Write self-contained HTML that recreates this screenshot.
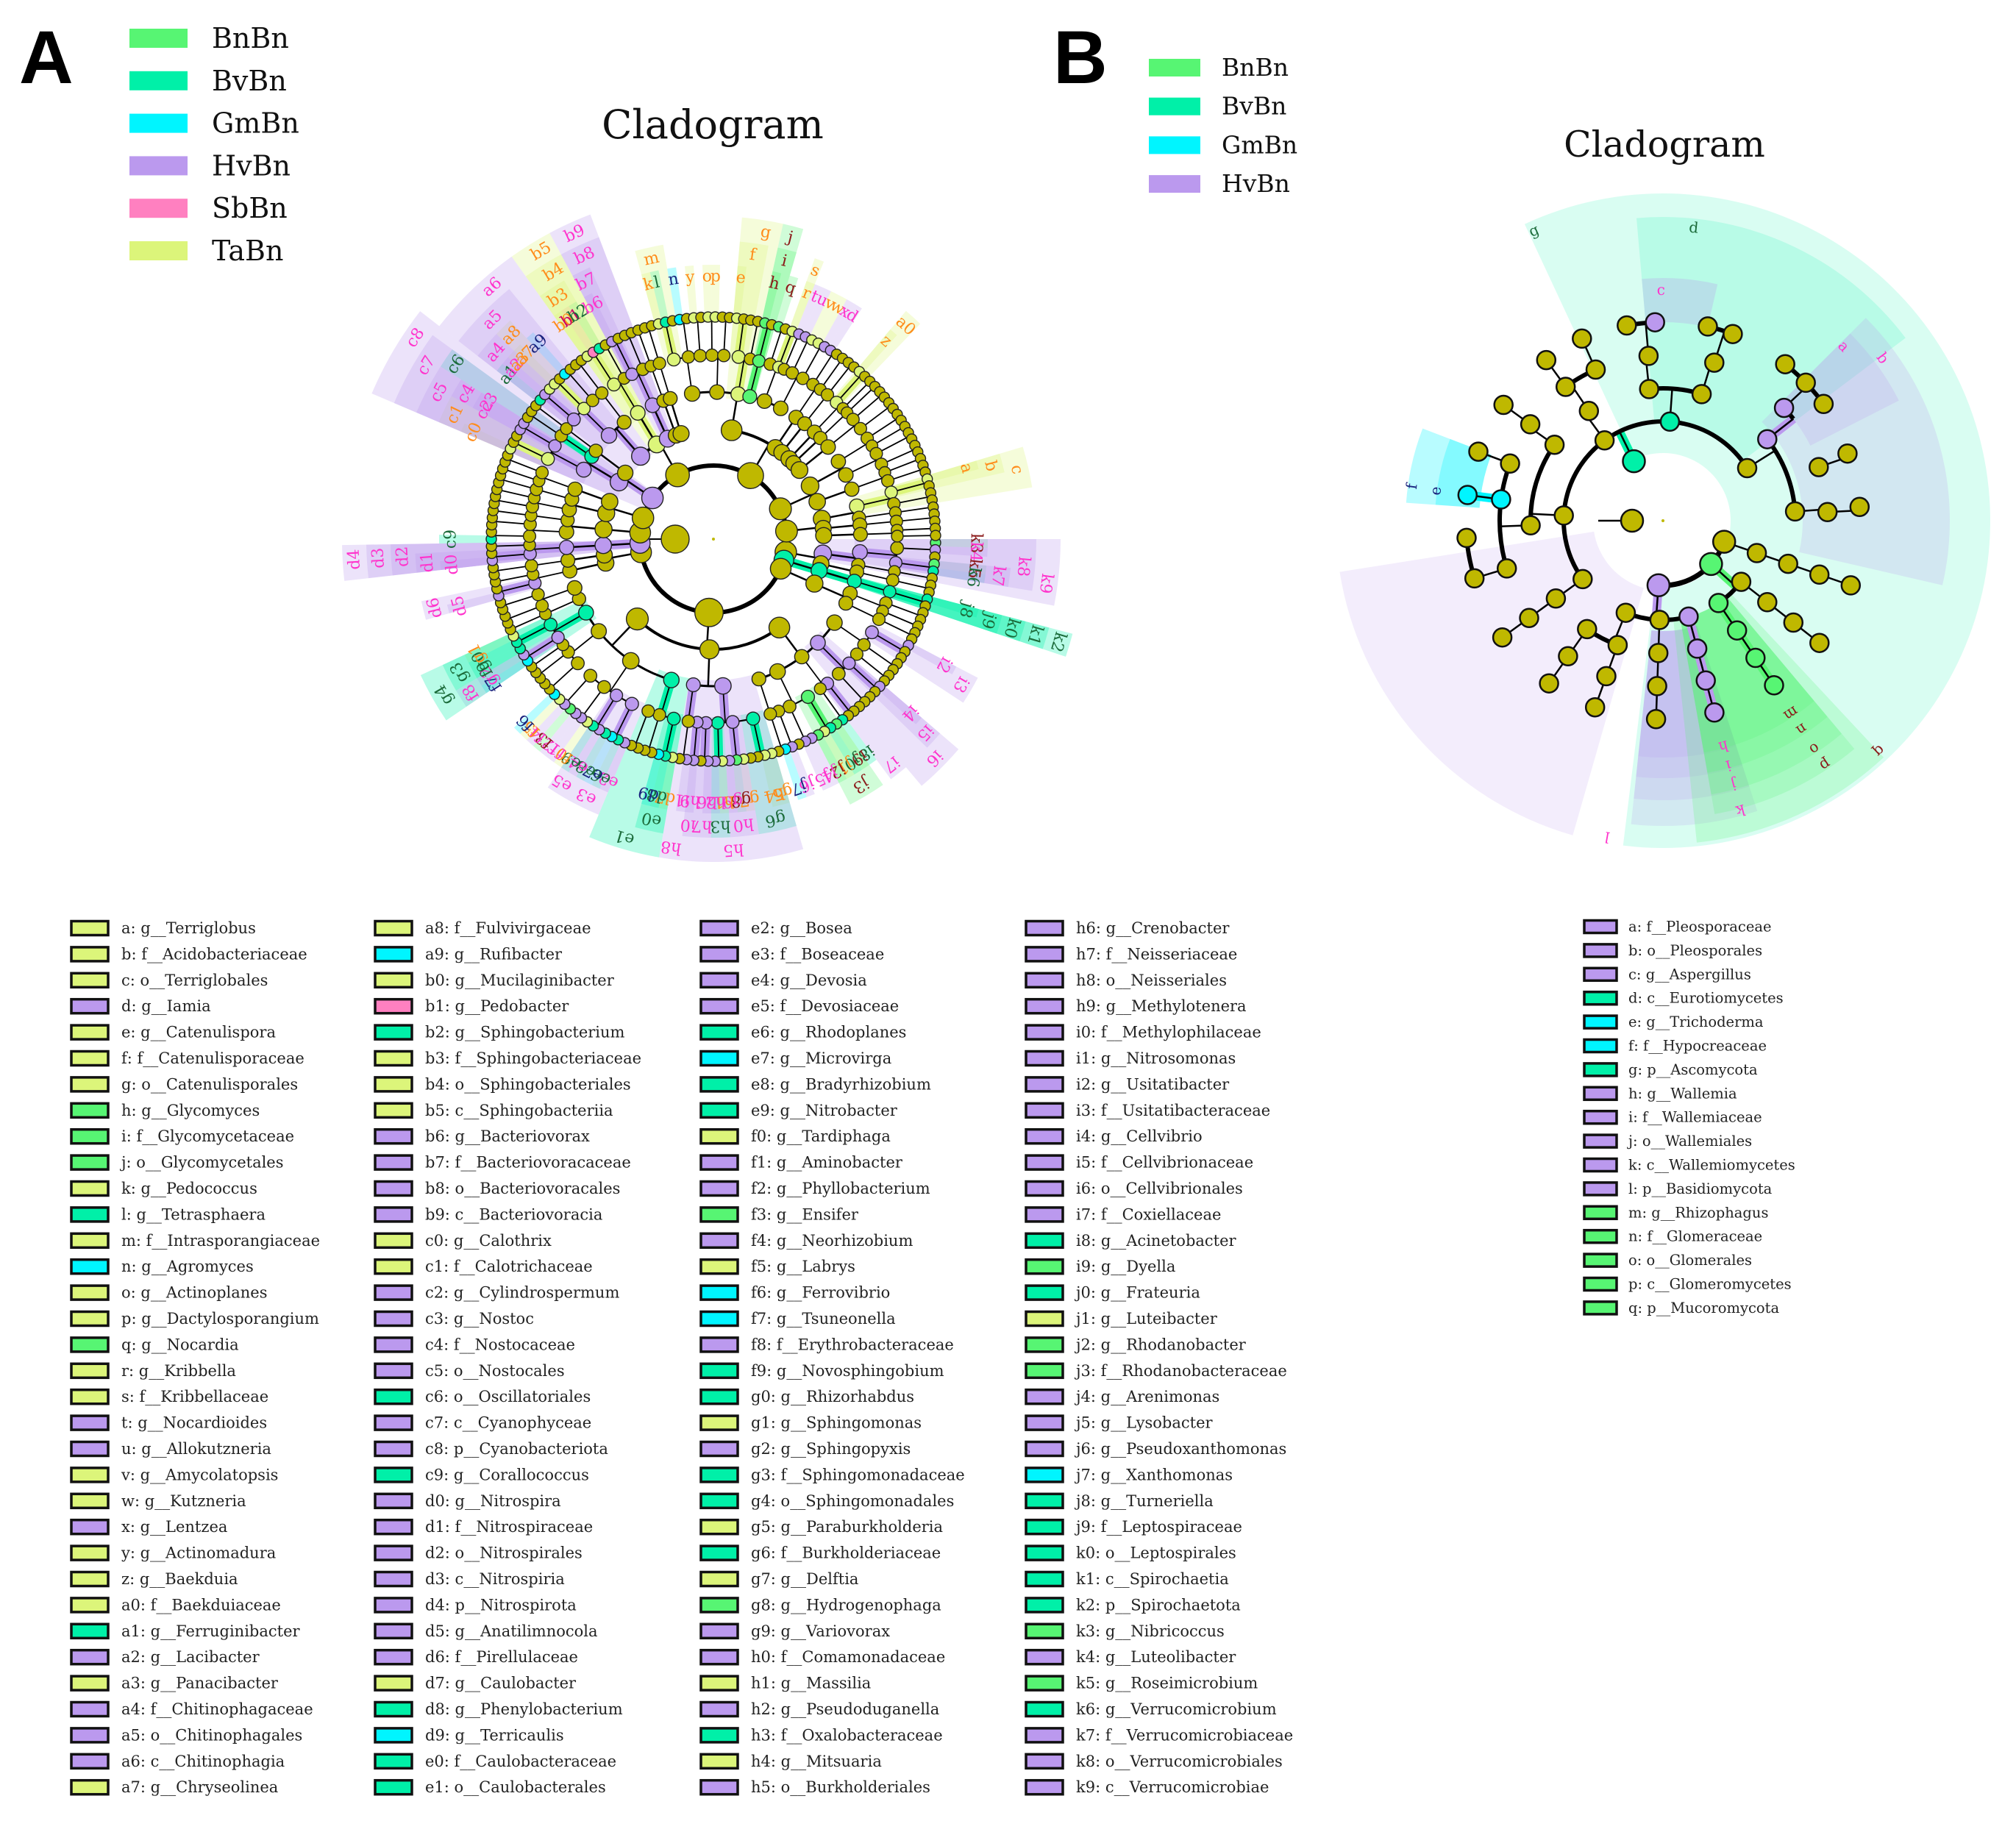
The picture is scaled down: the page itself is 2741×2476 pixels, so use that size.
<!DOCTYPE html>
<html><head><meta charset="utf-8"><title>Cladograms</title>
<style>
html,body{margin:0;padding:0;background:#fff;}
svg{display:block;}
</style></head>
<body>
<svg id="fig" width="2741" height="2476" viewBox="0 0 2741 2476" xmlns="http://www.w3.org/2000/svg"></svg>
<script>
// ---------- Shared styles ----------
const groupFill={Bn:'#57f573',Bv:'#00f0a8',Gm:'#00f5ff',Hv:'#bb99ee',Sb:'#ff80c0',Ta:'#dcf57a'};
const groupText={Bn:'#8b1a1a',Bv:'#1b6b3a',Gm:'#1a237e',Hv:'#ff33cc',Sb:'#cc0066',Ta:'#ff8c1a'};
const NODE='#bfb800';

// ---------- Panel A data ----------
const groupNamesA=['BnBn','BvBn','GmBn','HvBn','SbBn','TaBn'];
const groupKeysA=['Bn','Bv','Gm','Hv','Sb','Ta'];
const phylumNames=['Verrucomicrobiota','Spirochaetota','Gemmatimonadota','Proteobacteria','Planctomycetota','Nitrospirota','Myxococcota','Chloroflexi','Cyanobacteriota','Bacteroidota','Actinobacteriota','Firmicutes','Acidobacteriota'];
const phylumTrees=[
 [[[3,2],[1]],[[2]]],
 [[[2]]],
 [[[2,1],[2]]],
 [[[3,2,2],[2,3],[2,1],[4,3,1],[2]], [[4,3,2,2,1],[2]], [[3,2,2],[4,2,3,3],[3,2,1],[2,3],[1],[2,2]]],
 [[[2,1]],[[2]]],
 [[[2,1]]],
 [[[2,2],[1]]],
 [[[2,1],[2]],[[1,2]]],
 [[[3,2],[2]],[[1]]],
 [[[3,2,2],[2]],[[3,1]],[[2,2]],[[1]],[[2]]],
 [[[3,2,2],[2,2],[3,1],[2],[2,1,1],[2,2]],[[2,1]],[[2]],[[2,1]],[[1]],[[2,2]]],
 [[[2,1],[2,2]],[[1,2]]],
 [[[2,2],[1]],[[2]],[[1,1]]]
];
const legendEntriesA=[
'a|g__Terriglobus|Ta|12.0.0.0.0','b|f__Acidobacteriaceae|Ta|12.0.0.0','c|o__Terriglobales|Ta|12.0.0','d|g__Iamia|Hv|10.1.0.0.0',
'e|g__Catenulispora|Ta|10.0.2.0.0','f|f__Catenulisporaceae|Ta|10.0.2.0','g|o__Catenulisporales|Ta|10.0.2','h|g__Glycomyces|Bn|10.0.3.0.0',
'i|f__Glycomycetaceae|Bn|10.0.3.0','j|o__Glycomycetales|Bn|10.0.3','k|g__Pedococcus|Ta|10.0.0.0.0','l|g__Tetrasphaera|Bv|10.0.0.0.1',
'm|f__Intrasporangiaceae|Ta|10.0.0.0','n|g__Agromyces|Gm|10.0.0.1.0','o|g__Actinoplanes|Ta|10.0.1.0.0','p|g__Dactylosporangium|Ta|10.0.1.0.1',
'q|g__Nocardia|Bn|10.0.4.0.0','r|g__Kribbella|Ta|10.0.4.1.0','s|f__Kribbellaceae|Ta|10.0.4.1','t|g__Nocardioides|Hv|10.0.4.2.0',
'u|g__Allokutzneria|Hv|10.0.5.0.0','v|g__Amycolatopsis|Ta|10.0.5.0.1','w|g__Kutzneria|Ta|10.0.5.1.0','x|g__Lentzea|Hv|10.0.5.1.1',
'y|g__Actinomadura|Ta|10.0.0.2.0','z|g__Baekduia|Ta|10.3.0.0.0','a0|f__Baekduiaceae|Ta|10.3.0.0','a1|g__Ferruginibacter|Bv|9.0.0.0.0',
'a2|g__Lacibacter|Hv|9.0.0.0.1','a3|g__Panacibacter|Ta|9.0.0.0.2','a4|f__Chitinophagaceae|Hv|9.0.0.0','a5|o__Chitinophagales|Hv|9.0.0',
'a6|c__Chitinophagia|Hv|9.0','a7|g__Chryseolinea|Ta|9.0.0.1.0',
'a8|f__Fulvivirgaceae|Ta|9.0.0.1','a9|g__Rufibacter|Gm|9.0.0.2.0','b0|g__Mucilaginibacter|Ta|9.1.0.0.0','b1|g__Pedobacter|Sb|9.1.0.0.1',
'b2|g__Sphingobacterium|Bv|9.1.0.0.2','b3|f__Sphingobacteriaceae|Ta|9.1.0.0','b4|o__Sphingobacteriales|Ta|9.1.0','b5|c__Sphingobacteriia|Ta|9.1',
'b6|g__Bacteriovorax|Hv|9.2.0.0.0','b7|f__Bacteriovoracaceae|Hv|9.2.0.0','b8|o__Bacteriovoracales|Hv|9.2.0','b9|c__Bacteriovoracia|Hv|9.2',
'c0|g__Calothrix|Ta|8.0.0.0.0','c1|f__Calotrichaceae|Ta|8.0.0.0','c2|g__Cylindrospermum|Hv|8.0.0.1.0','c3|g__Nostoc|Hv|8.0.0.1.1',
'c4|f__Nostocaceae|Hv|8.0.0.1','c5|o__Nostocales|Hv|8.0.0','c6|o__Oscillatoriales|Bv|8.0.1','c7|c__Cyanophyceae|Hv|8.0',
'c8|p__Cyanobacteriota|Hv|8','c9|g__Corallococcus|Bv|6.0.0.0.0','d0|g__Nitrospira|Hv|5.0.0.0.0','d1|f__Nitrospiraceae|Hv|5.0.0.0',
'd2|o__Nitrospirales|Hv|5.0.0','d3|c__Nitrospiria|Hv|5.0','d4|p__Nitrospirota|Hv|5','d5|g__Anatilimnocola|Hv|4.0.0.0.0',
'd6|f__Pirellulaceae|Hv|4.0.0.0','d7|g__Caulobacter|Ta|3.2.0.0.0','d8|g__Phenylobacterium|Bv|3.2.0.0.1','d9|g__Terricaulis|Gm|3.2.0.0.2',
'e0|f__Caulobacteraceae|Bv|3.2.0.0','e1|o__Caulobacterales|Bv|3.2.0',
'e2|g__Bosea|Hv|3.2.1.0.0','e3|f__Boseaceae|Hv|3.2.1.0','e4|g__Devosia|Hv|3.2.1.1.0','e5|f__Devosiaceae|Hv|3.2.1.1',
'e6|g__Rhodoplanes|Bv|3.2.1.0.1','e7|g__Microvirga|Gm|3.2.1.0.2','e8|g__Bradyrhizobium|Bv|3.2.1.0.3','e9|g__Nitrobacter|Bv|3.2.1.1.1',
'f0|g__Tardiphaga|Ta|3.2.1.2.0','f1|g__Aminobacter|Hv|3.2.1.2.1','f2|g__Phyllobacterium|Hv|3.2.1.2.2','f3|g__Ensifer|Bn|3.2.1.3.0',
'f4|g__Neorhizobium|Hv|3.2.1.3.1','f5|g__Labrys|Ta|3.2.1.3.2','f6|g__Ferrovibrio|Gm|3.2.2.0.0','f7|g__Tsuneonella|Gm|3.2.3.0.0',
'f8|f__Erythrobacteraceae|Hv|3.2.3.0','f9|g__Novosphingobium|Bv|3.2.3.1.0','g0|g__Rhizorhabdus|Bv|3.2.3.1.1','g1|g__Sphingomonas|Ta|3.2.3.1.2',
'g2|g__Sphingopyxis|Hv|3.2.3.0.1','g3|f__Sphingomonadaceae|Bv|3.2.3.1','g4|o__Sphingomonadales|Bv|3.2.3','g5|g__Paraburkholderia|Ta|3.1.0.0.0',
'g6|f__Burkholderiaceae|Bv|3.1.0.0','g7|g__Delftia|Ta|3.1.0.1.0','g8|g__Hydrogenophaga|Bn|3.1.0.1.1','g9|g__Variovorax|Hv|3.1.0.1.2',
'h0|f__Comamonadaceae|Hv|3.1.0.1','h1|g__Massilia|Ta|3.1.0.2.0','h2|g__Pseudoduganella|Hv|3.1.0.2.1','h3|f__Oxalobacteraceae|Bv|3.1.0.2',
'h4|g__Mitsuaria|Ta|3.1.0.0.1','h5|o__Burkholderiales|Hv|3.1.0',
'h6|g__Crenobacter|Hv|3.1.0.3.0','h7|f__Neisseriaceae|Hv|3.1.0.3','h8|o__Neisseriales|Hv|3.1.1','h9|g__Methylotenera|Hv|3.1.0.4.0',
'i0|f__Methylophilaceae|Hv|3.1.0.4','i1|g__Nitrosomonas|Hv|3.1.1.0.0','i2|g__Usitatibacter|Hv|3.0.0.0.0','i3|f__Usitatibacteraceae|Hv|3.0.0.0',
'i4|g__Cellvibrio|Hv|3.0.1.0.0','i5|f__Cellvibrionaceae|Hv|3.0.1.0','i6|o__Cellvibrionales|Hv|3.0.1','i7|f__Coxiellaceae|Hv|3.0.2.0',
'i8|g__Acinetobacter|Bv|3.0.2.1.0','i9|g__Dyella|Bn|3.0.3.0.0','j0|g__Frateuria|Bv|3.0.3.0.1','j1|g__Luteibacter|Ta|3.0.3.0.2',
'j2|g__Rhodanobacter|Bn|3.0.3.0.3','j3|f__Rhodanobacteraceae|Bn|3.0.3.0','j4|g__Arenimonas|Hv|3.0.3.1.0','j5|g__Lysobacter|Hv|3.0.3.1.1',
'j6|g__Pseudoxanthomonas|Hv|3.0.3.2.0','j7|g__Xanthomonas|Gm|3.0.4.0.0','j8|g__Turneriella|Bv|1.0.0.0.0','j9|f__Leptospiraceae|Bv|1.0.0.0',
'k0|o__Leptospirales|Bv|1.0.0','k1|c__Spirochaetia|Bv|1.0','k2|p__Spirochaetota|Bv|1','k3|g__Nibricoccus|Bn|0.0.0.0.0',
'k4|g__Luteolibacter|Hv|0.0.0.0.1','k5|g__Roseimicrobium|Bn|0.0.0.1.0','k6|g__Verrucomicrobium|Bv|0.0.0.1.1','k7|f__Verrucomicrobiaceae|Hv|0.0.0.1',
'k8|o__Verrucomicrobiales|Hv|0.0.0','k9|c__Verrucomicrobiae|Hv|0.0'
];

// ---------- Panel B data ----------
const groupNamesB=['BnBn','BvBn','GmBn','HvBn'];
const groupKeysB=['Bn','Bv','Gm','Hv'];
const bAngle=[0,19,42,94,180,244,19,19,19,19,38,38,38,38,56,56,56,56,112,92,75,75,75,75,92,92,92,125,110,125,125,110,110,144,183,234,274,328,144,144,144,178,215,163,187.5,200.5,163,175,187.5,200.5,216,216,236,234,246,234,246,264,287,265,259.5,267.7,288,283,290.5,322,356,357,356,317,341,308,316,324,340];
const bRadius=[0,88,88,88,42,90,135,180,225,270,135,180,225,270,135,180,225,270,135,135,135,180,225,270,180,225,270,180,180,225,270,225,270,135,135,135,135,135,180,225,270,180,180,222,222,222,268,268,268,268,223,268,180,225,225,270,271,180,180,225,270,270,226,271,271,180,180,224,268,225,224,270,270,270,267];
const bParent=[-1,0,0,0,0,0,1,6,7,8,2,10,11,12,2,14,15,16,3,3,3,20,21,22,19,24,25,18,18,27,29,28,31,5,5,5,5,5,33,38,39,34,34,41,41,41,43,43,44,45,42,50,35,52,52,53,54,36,36,57,59,59,58,62,62,37,37,66,67,65,65,69,69,69,70];
const bGroup=['','','Bn','Hv','','Bv','','','','','','','','','Bn','Bn','Bn','Bn','','','Hv','Hv','Hv','Hv','','','','','','','','','','','','','Bv','','','','','','','','Gm','','','','Gm','','','','','','','','','','','','','Hv','','','','Hv','','','','Hv','','','','',''];
const bwStart=[245,265,265,315,315,184,184,106,72,72,72,72,47,50,50,50,50];
const bwEnd=[457,323,283,373,333,201,201,171,96,96,96,96,84,80,80,80,80];
const bwInner=[92,135,270,190,225,250,250,95,150,150,150,150,135,135,135,135,135];
const bwOuter=[445,413,330,390,360,350,310,445,415,380,350,322,440,405,378,348,320];
const bwGroup=['Bv','Bv','Hv','Hv','Hv','Gm','Gm','Hv','Hv','Hv','Hv','Hv','Bn','Bn','Bn','Bn','Bn'];
const bwOpacity=[0.15,0.15,0.28,0.22,0.22,0.28,0.28,0.18,0.2,0.2,0.2,0.2,0.22,0.2,0.2,0.2,0.2];
const blText=['g','d','c','a','b','e','f','l','k','j','i','h','m','n','o','p','q'];
const blAngle=[246,276,269.5,316,323.5,187.5,187.8,100,75,75,75,75,56.4,56.4,56.4,56.4,46.8];
const blRadius=[432,401,314,342,372,312,345,437,408,372,345,318,315,341,373,399,430];
const blGroup=['Bv','Bv','Hv','Hv','Hv','Gm','Gm','Hv','Hv','Hv','Hv','Hv','Bn','Bn','Bn','Bn','Bn'];
const legendEntriesB=[
'a|f__Pleosporaceae|Hv','b|o__Pleosporales|Hv','c|g__Aspergillus|Hv','d|c__Eurotiomycetes|Bv','e|g__Trichoderma|Gm','f|f__Hypocreaceae|Gm',
'g|p__Ascomycota|Bv','h|g__Wallemia|Hv','i|f__Wallemiaceae|Hv','j|o__Wallemiales|Hv','k|c__Wallemiomycetes|Hv','l|p__Basidiomycota|Hv',
'm|g__Rhizophagus|Bn','n|f__Glomeraceae|Bn','o|o__Glomerales|Bn','p|c__Glomeromycetes|Bn','q|p__Mucoromycota|Bn'
];

// ---------- Helpers ----------
const NS='http://www.w3.org/2000/svg';
const svg=document.getElementById('fig');
function mk(tag,attrs,name,parent){
  const el=document.createElementNS(NS,tag);
  for(const k in attrs) el.setAttribute(k,attrs[k]);
  
  
  (parent||svg).appendChild(el);
  return el;
}
function txt(str,attrs,name,parent){const t=mk('text',attrs,name,parent);t.textContent=str;return t;}
function pt(cx,cy,r,a){const t=a*Math.PI/180;return [cx+r*Math.cos(t),cy+r*Math.sin(t)];}
function arcPath(cx,cy,r,a0,a1){const p0=pt(cx,cy,r,a0),p1=pt(cx,cy,r,a1);const lg=(a1-a0)>180?1:0;return 'M'+p0[0].toFixed(2)+' '+p0[1].toFixed(2)+' A'+r+' '+r+' 0 '+lg+' 1 '+p1[0].toFixed(2)+' '+p1[1].toFixed(2);}
function sector(cx,cy,r0,r1,a0,a1){
  const lg=(a1-a0)>180?1:0;
  const o0=pt(cx,cy,r1,a0),o1=pt(cx,cy,r1,a1),i1=pt(cx,cy,r0,a1),i0=pt(cx,cy,r0,a0);
  return 'M'+o0.join(' ')+' A'+r1+' '+r1+' 0 '+lg+' 1 '+o1.join(' ')+' L'+i1.join(' ')+' A'+r0+' '+r0+' 0 '+lg+' 0 '+i0.join(' ')+' Z';
}
const SERIF='"DejaVu Serif","Liberation Serif",serif';

// ---------- Panel letters & titles ----------
txt('A',{x:26,y:113,'font-family':'"Liberation Sans",sans-serif','font-weight':'bold','font-size':102,fill:'#000'},'panel-a-letter');
txt('B',{x:1432,y:113,'font-family':'"Liberation Sans",sans-serif','font-weight':'bold','font-size':102,fill:'#000'},'panel-b-letter');
txt('Cladogram',{x:969,y:188,'text-anchor':'middle','font-family':SERIF,'font-size':54,fill:'#111'},'panel-a-title');
txt('Cladogram',{x:2263,y:213,'text-anchor':'middle','font-family':SERIF,'font-size':49,fill:'#111'},'panel-b-title');

// Group legends
const legA=mk('g',{},'group-legend-a');
groupNamesA.forEach((g,i)=>{
  const cy=52+i*57.8;
  mk('rect',{x:176,y:cy-13,width:79,height:26,fill:groupFill[groupKeysA[i]]},'legend-swatch-'+g.toLowerCase(),legA);
  txt(g,{x:288,y:cy+13,'font-family':SERIF,'font-size':38,fill:'#111'},'legend-label-'+g.toLowerCase(),legA);
});
const legB=mk('g',{},'group-legend-b');
groupNamesB.forEach((g,i)=>{
  const cy=92+i*52.7;
  mk('rect',{x:1562,y:cy-12,width:70,height:24,fill:groupFill[groupKeysB[i]]},'legend-swatch-b-'+g.toLowerCase(),legB);
  txt(g,{x:1661,y:cy+11,'font-family':SERIF,'font-size':33,fill:'#111'},'legend-label-b-'+g.toLowerCase(),legB);
});

// ---------- Panel A cladogram ----------
const CXA=970, CYA=733;
const RA=[0,100,150,200,250,302];
const gWA=mk('g',{},'cladogram-a-wedges');
const gLA=mk('g',{},'cladogram-a-branches');
const gNA=mk('g',{},'cladogram-a-nodes');
const gTA=mk('g',{},'cladogram-a-labels');
function countLeaves(s,level){return level===4?s:s.reduce((t,c)=>t+countLeaves(c,level+1),0);}
const totalLeaves=phylumTrees.reduce((t,p)=>t+countLeaves(p,1),0);
const stepA=360/totalLeaves;
const nodesA=[]; let leafCounter=0;
function buildA(spec,level,path){
  const node={level,path,children:[]};
  if(level===4){
    for(let i=0;i<spec;i++){const ang=(leafCounter+0.5)*stepA;leafCounter++;
      const g={level:5,path:path+'.'+i,children:[],angle:ang,a0:ang,a1:ang,leaves:1};node.children.push(g);nodesA.push(g);}
  } else spec.forEach((s,i)=>node.children.push(buildA(s,level+1,path+'.'+i)));
  const f=node.children[0],l=node.children[node.children.length-1];
  node.a0=f.a0;node.a1=l.a1;node.angle=(f.angle+l.angle)/2;
  node.leaves=node.children.reduce((t,c)=>t+c.leaves,0);
  nodesA.push(node);return node;
}
const phylaA=phylumTrees.map((p,i)=>buildA(p,1,String(i)));
const hlA={};
legendEntriesA.forEach(e=>{const p=e.split('|');hlA[p[3]]={code:p[0],name:p[1],group:p[2]};});

nodesA.forEach(n=>{
  const h=hlA[n.path]; if(!h) return;
  const labelR=357+(5-n.level)*33;
  const a0=n.a0-stepA/2, a1=n.a1+stepA/2;
  mk('path',{d:sector(CXA,CYA,RA[n.level]-8,labelR+16,a0,a1),fill:groupFill[h.group],'fill-opacity':0.28},'wedge-'+h.code,gWA);
  const p=pt(CXA,CYA,labelR,n.angle);
  txt(h.code,{x:p[0].toFixed(1),y:p[1].toFixed(1),'text-anchor':'middle','dominant-baseline':'central','font-family':SERIF,'font-size':22,fill:groupText[h.group],transform:'rotate('+(n.angle+90).toFixed(1)+' '+p[0].toFixed(1)+' '+p[1].toFixed(1)+')'},'clade-label-'+h.code,gTA);
});
mk('path',{d:arcPath(CXA,CYA,RA[1],phylaA[0].angle,phylaA[phylaA.length-1].angle),fill:'none',stroke:'#000','stroke-width':6},'root-arc',gLA);
(function(){const a=pt(CXA,CYA,52,180),b=pt(CXA,CYA,RA[1],180);
 mk('line',{x1:a[0],y1:a[1],x2:b[0],y2:b[1],stroke:'#000','stroke-width':2},'kingdom-branch',gLA);})();
nodesA.forEach(n=>{
  if(!n.children.length) return;
  const h=hlA[n.path];
  const a=pt(CXA,CYA,RA[n.level],n.angle),b=pt(CXA,CYA,RA[n.level+1],n.angle);
  if(h) mk('line',{x1:a[0],y1:a[1],x2:b[0],y2:b[1],stroke:groupFill[h.group],'stroke-width':12},'stem-'+h.code,gLA);
  mk('line',{x1:a[0],y1:a[1],x2:b[0],y2:b[1],stroke:'#000','stroke-width':n.level<=2?2.5:1.8},'branch-'+n.path,gLA);
  const c0=n.children[0].angle,c1=n.children[n.children.length-1].angle;
  if(c1>c0) mk('path',{d:arcPath(CXA,CYA,RA[n.level+1],c0,c1),fill:'none',stroke:'#000','stroke-width':n.level===1?4:(n.level===2?3:2.2)},'arc-'+n.path,gLA);
});
const baseR=[0,13,10.5,9,8,7];
[1,2,3,4,5].forEach(L=>{
  nodesA.filter(n=>n.level===L).forEach(n=>{
    const h=hlA[n.path];
    const p=pt(CXA,CYA,RA[L],n.angle);
    const r=baseR[L]+Math.min(7,Math.sqrt(n.leaves)-1)*0.9;
    mk('circle',{cx:p[0].toFixed(1),cy:p[1].toFixed(1),r:r.toFixed(1),fill:h?groupFill[h.group]:NODE,stroke:'#222','stroke-width':1.4},h?'node-'+h.code:'node-'+n.path,gNA);
  });
});
(function(){const p=pt(CXA,CYA,52,180);
 mk('circle',{cx:p[0],cy:p[1],r:19,fill:NODE,stroke:'#222','stroke-width':1.4},'kingdom-node',gNA);
 mk('circle',{cx:CXA,cy:CYA,r:2,fill:NODE},'root-node-a',gNA);})();

// ---------- Panel B cladogram ----------
const CXB=2261, CYB=708;
const gWB=mk('g',{},'cladogram-b-wedges');
const gLB=mk('g',{},'cladogram-b-branches');
const gNB=mk('g',{},'cladogram-b-nodes');
const gTB=mk('g',{},'cladogram-b-labels');
bwStart.forEach((s,i)=>{
  mk('path',{d:sector(CXB,CYB,bwInner[i],bwOuter[i],s,bwEnd[i]),fill:groupFill[bwGroup[i]],'fill-opacity':bwOpacity[i]},'wedge-b-'+i,gWB);
});
blText.forEach((t,i)=>{
  const p=pt(CXB,CYB,blRadius[i],blAngle[i]);
  txt(t,{x:p[0].toFixed(1),y:p[1].toFixed(1),'text-anchor':'middle','dominant-baseline':'central','font-family':SERIF,'font-size':20,fill:groupText[blGroup[i]],transform:'rotate('+(blAngle[i]+90).toFixed(1)+' '+p[0].toFixed(1)+' '+p[1].toFixed(1)+')'},'clade-label-b-'+t,gTB);
});
const kids=bAngle.map(()=>[]);
bParent.forEach((p,i)=>{if(p>=0) kids[p].push(i);});
kids.forEach((ch,pi)=>{
  if(!ch.length) return;
  const arcR=pi===0?88:bRadius[ch[0]];
  const onArc=ch.filter(c=>bRadius[c]===arcR);
  const angs=onArc.map(c=>bAngle[c]);
  if(pi!==0) angs.push(bAngle[pi]);
  const a0=Math.min(...angs),a1=Math.max(...angs);
  if(pi!==0){
    const a=pt(CXB,CYB,bRadius[pi],bAngle[pi]),b=pt(CXB,CYB,arcR,bAngle[pi]);
    const g=bGroup[pi];
    if(g && ch.some(c=>bGroup[c]===g)) mk('line',{x1:a[0],y1:a[1],x2:b[0],y2:b[1],stroke:groupFill[g],'stroke-width':12},'stem-b-'+pi,gLB);
    mk('line',{x1:a[0],y1:a[1],x2:b[0],y2:b[1],stroke:'#000','stroke-width':2.5},'branch-b-'+pi,gLB);
  }
  if(a1>a0) mk('path',{d:arcPath(CXB,CYB,arcR,a0,a1),fill:'none',stroke:'#000','stroke-width':pi===0?7:6},'arc-b-'+pi,gLB);
  ch.filter(c=>bRadius[c]!==arcR).forEach(c=>{
    const a=pt(CXB,CYB,bRadius[c],bAngle[c]),b=pt(CXB,CYB,arcR,bAngle[c]);
    mk('line',{x1:a[0],y1:a[1],x2:b[0],y2:b[1],stroke:'#000','stroke-width':2.5},'branch-b-'+c,gLB);
  });
});
bAngle.forEach((a,i)=>{
  if(i===0){mk('circle',{cx:CXB,cy:CYB,r:2,fill:NODE},'root-node-b',gNB);return;}
  const p=pt(CXB,CYB,bRadius[i],a);
  const r=(i<=5)?15:12.5;
  mk('circle',{cx:p[0].toFixed(1),cy:p[1].toFixed(1),r:r,fill:bGroup[i]?groupFill[bGroup[i]]:NODE,stroke:'#111','stroke-width':2.5},'node-b-'+i,gNB);
});

// ---------- Feature lists ----------
const listA=mk('g',{},'feature-list-a');
const colX=[97,510,953,1395];
legendEntriesA.forEach((e,i)=>{
  const p=e.split('|');const col=Math.floor(i/34),row=i%34;
  const x=colX[col],y=1262+row*35.4;
  mk('rect',{x:x,y:y-9.5,width:50,height:19,fill:groupFill[p[2]],stroke:'#111','stroke-width':3.5},'feature-swatch-'+p[0],listA);
  txt(p[0]+': '+p[1],{x:x+68,y:y,'dominant-baseline':'central','font-family':SERIF,'font-size':21,fill:'#222'},'feature-label-'+p[0],listA);
});
const listB=mk('g',{},'feature-list-b');
legendEntriesB.forEach((e,i)=>{
  const p=e.split('|');const y=1260+i*32.4;
  mk('rect',{x:2154,y:y-8.5,width:44,height:17,fill:groupFill[p[2]],stroke:'#111','stroke-width':3.5},'feature-swatch-b-'+p[0],listB);
  txt(p[0]+': '+p[1],{x:2214,y:y,'dominant-baseline':'central','font-family':SERIF,'font-size':19.5,fill:'#222'},'feature-label-b-'+p[0],listB);
});
</script>
</body></html>
